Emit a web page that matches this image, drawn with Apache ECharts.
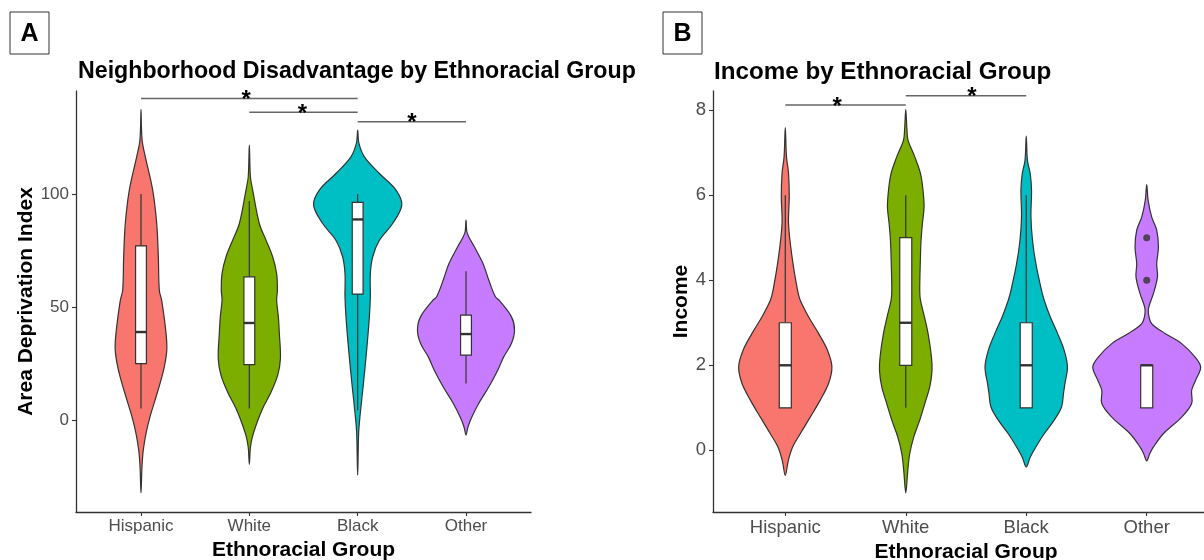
<!DOCTYPE html>
<html>
<head>
<meta charset="utf-8">
<title>Ethnoracial Group comparisons</title>
<script src="https://cdn.jsdelivr.net/npm/echarts@6/dist/echarts.min.js"></script>
<style>
  html, body { margin: 0; padding: 0; background: #ffffff; }
  #chart { width: 1204px; height: 560px; }
</style>
</head>
<body>
<div id="chart"></div>
<script>
// ---------- data ----------
const categories = ['Hispanic', 'White', 'Black', 'Other'];

// Violin profiles: [value, half-width in category units], top to bottom
const adiHispanic = [[137.5,0],[130,0.004],[123,0.012],[116.5,0.040],[101.8,0.108],[87,0.145],[72.3,0.160],[57.5,0.169],[53,0.191],[38.5,0.231],[31,0.238],[23.6,0.215],[16.3,0.176],[8.8,0.129],[1.5,0.083],[-5.9,0.046],[-13.3,0.021],[-20.6,0.009],[-32.2,0]];
const adiWhite    = [[121.7,0],[107.7,0.010],[101.8,0.031],[87,0.092],[79.6,0.154],[72.3,0.215],[64.9,0.252],[57.5,0.259],[53.1,0.252],[45.7,0.268],[38.4,0.277],[27.3,0.287],[19.9,0.262],[12.5,0.201],[5.2,0.123],[-2.2,0.062],[-7.4,0.028],[-12,0.010],[-19.5,0]];
const adiBlack    = [[128.3,0],[122.4,0.012],[116.5,0.062],[109.1,0.201],[101.8,0.354],[95.1,0.407],[87,0.323],[79.6,0.201],[72.3,0.139],[64.9,0.117],[54.6,0.117],[45.7,0.108],[31,0.083],[16.2,0.053],[1.5,0.021],[-5.9,0.009],[-24.3,0]];
const adiOther    = [[88.5,0],[82.6,0.012],[76.7,0.077],[69.3,0.157],[62,0.210],[54.6,0.271],[53.1,0.305],[45.7,0.420],[39.8,0.448],[33.9,0.419],[28,0.348],[22.1,0.293],[14.7,0.210],[7.4,0.117],[1.5,0.055],[-3,0.018],[-6.6,0]];

const incHispanic = [[7.59,0],[6.9,0.010],[6.51,0.027],[5.96,0.033],[5.33,0.027],[4.55,0.056],[3.76,0.102],[3.53,0.124],[3.14,0.193],[2.75,0.276],[2.35,0.351],[1.96,0.387],[1.57,0.359],[1.18,0.290],[0.78,0.207],[0.39,0.124],[0.08,0.061],[-0.24,0.025],[-0.59,0]];
const incWhite    = [[8.02,0],[7.53,0.010],[7.29,0.019],[6.9,0.075],[6.51,0.122],[6.12,0.143],[5.72,0.152],[5.33,0.138],[4.94,0.127],[4.55,0.122],[3.76,0.116],[3.53,0.122],[3.14,0.155],[2.75,0.185],[2.2,0.213],[1.88,0.218],[1.49,0.199],[1.1,0.158],[0.71,0.116],[0.31,0.066],[-0.08,0.033],[-0.47,0.017],[-1.0,0]];
const incBlack    = [[7.39,0],[6.82,0.010],[6.51,0.033],[6.12,0.044],[5.49,0.039],[4.94,0.052],[4.39,0.080],[3.76,0.127],[3.53,0.149],[3.14,0.199],[2.75,0.260],[2.35,0.315],[1.96,0.342],[1.57,0.321],[1.33,0.309],[1.02,0.293],[0.71,0.232],[0.39,0.149],[0.08,0.080],[-0.16,0.033],[-0.39,0]];
const incOther    = [[6.25,0],[5.88,0.012],[5.49,0.041],[5.18,0.083],[4.78,0.097],[4.39,0.083],[4.08,0.089],[3.69,0.056],[3.37,0.017],[3.22,0.014],[2.98,0.041],[2.75,0.152],[2.51,0.290],[2.2,0.400],[1.96,0.448],[1.65,0.406],[1.41,0.373],[1.1,0.373],[0.78,0.290],[0.39,0.138],[0.08,0.056],[-0.08,0.025],[-0.25,0]];

// Box statistics: [lower whisker, Q1, median, Q3, upper whisker]
const adiBoxes = [[5.2,25,39,77.1,100],[5.2,24.6,43,63.4,96.9],[4.4,55.8,88.8,96.3,100],[16.2,28.8,38.1,46.5,65.9]];
const incBoxes = [[1,1,2,3,6],[1,2,3,5,6],[1,1,2,3,6],[1,1,2,2,2]];

// Outliers: [category position, value]
const incOutliers = [[4,4],[4,5]];

// Significance brackets: [from, to, height, label position, label]
const adiBrackets = [[1,3,142.3,1.97,'*'],[2,3,136.2,2.49,'*'],[3,4,132,3.5,'*']];
const incBrackets = [[1,2,8.12,1.43,'*'],[2,3,8.34,2.55,'*']];

// Axis ticks
const adiTicks = [0, 50, 100];
const incTicks = [0, 2, 4, 6, 8];
const catTicks = [1, 2, 3, 4];

// ---------- styling ----------
const fills = ['#F8766D', '#7CAE00', '#00BFC4', '#C77CFF'];
const FONT = '"Liberation Sans", Arial, Helvetica, sans-serif';
const INK = '#333333';

function violinSeries(axis, profiles) {
  return {
    type: 'custom', xAxisIndex: axis, yAxisIndex: axis, silent: true, z: 2,
    data: profiles.map((p, i) => [i + 1]),
    renderItem: function (params, api) {
      const i = params.dataIndex;
      const prof = profiles[i];
      const cx = i + 1;
      const right = prof.map(d => api.coord([cx + d[1], d[0]]));
      const left = prof.slice(1, -1).reverse().map(d => api.coord([cx - d[1], d[0]]));
      return {
        type: 'polygon',
        shape: { points: right.concat(left), smooth: 0.35 },
        style: { fill: fills[i], stroke: INK, lineWidth: 1.2 }
      };
    }
  };
}

function boxSeries(axis, boxes) {
  const half = 0.05;
  return {
    type: 'custom', xAxisIndex: axis, yAxisIndex: axis, silent: true, z: 3,
    data: boxes.map((b, i) => [i + 1]),
    renderItem: function (params, api) {
      const i = params.dataIndex;
      const b = boxes[i];
      const cx = i + 1;
      const pLow = api.coord([cx, b[0]]);
      const pQ1 = api.coord([cx, b[1]]);
      const pQ3 = api.coord([cx, b[3]]);
      const pHigh = api.coord([cx, b[4]]);
      const l = api.coord([cx - half, b[2]]);
      const r = api.coord([cx + half, b[2]]);
      const children = [];
      if (b[4] > b[3]) children.push({ type: 'line', shape: { x1: pQ3[0], y1: pQ3[1], x2: pHigh[0], y2: pHigh[1] }, style: { stroke: INK, lineWidth: 1.2 } });
      if (b[0] < b[1]) children.push({ type: 'line', shape: { x1: pLow[0], y1: pLow[1], x2: pQ1[0], y2: pQ1[1] }, style: { stroke: INK, lineWidth: 1.2 } });
      children.push({ type: 'rect', shape: { x: l[0], y: pQ3[1], width: r[0] - l[0], height: pQ1[1] - pQ3[1] }, style: { fill: '#ffffff', stroke: INK, lineWidth: 1.2 } });
      children.push({ type: 'line', shape: { x1: l[0], y1: l[1], x2: r[0], y2: r[1] }, style: { stroke: INK, lineWidth: 2.4 } });
      return { type: 'group', children: children };
    }
  };
}

function bracketSeries(axis, brackets) {
  return {
    type: 'custom', xAxisIndex: axis, yAxisIndex: axis, silent: true, z: 4,
    data: brackets.map((b, i) => [b[0]]),
    renderItem: function (params, api) {
      const b = brackets[params.dataIndex];
      const a = api.coord([b[0], b[2]]);
      const c = api.coord([b[1], b[2]]);
      const t = api.coord([b[3], b[2]]);
      return {
        type: 'group',
        children: [
          { type: 'line', shape: { x1: a[0], y1: a[1], x2: c[0], y2: c[1] }, style: { stroke: '#666666', lineWidth: 1.4 } },
          { type: 'text', x: t[0], y: t[1] + 2, style: { text: b[4], fill: '#000', font: 'bold 24px ' + FONT, align: 'center', verticalAlign: 'middle' } }
        ]
      };
    }
  };
}

function xAxisFor(grid, size, gap) {
  return {
    type: 'value', gridIndex: grid, min: 0.4, max: 4.6,
    axisLine: { show: true, onZero: false, lineStyle: { color: INK, width: 1.3 } },
    axisTick: { show: true, length: 4, customValues: catTicks, lineStyle: { color: INK, width: 1.1 } },
    axisLabel: { customValues: catTicks, formatter: v => categories[Math.round(v) - 1], fontSize: size, color: '#4d4d4d', fontFamily: FONT, margin: 6 },
    splitLine: { show: false },
    name: 'Ethnoracial Group', nameLocation: 'middle', nameGap: gap,
    nameTextStyle: { fontSize: 21, fontWeight: 'bold', color: '#000', fontFamily: FONT }
  };
}

function yAxisFor(grid, min, max, ticks, name, gap, size) {
  return {
    type: 'value', gridIndex: grid, min: min, max: max,
    axisLine: { show: true, onZero: false, lineStyle: { color: INK, width: 1.3 } },
    axisTick: { show: true, length: 4, customValues: ticks, lineStyle: { color: INK, width: 1.1 } },
    axisLabel: { customValues: ticks, fontSize: size, color: '#4d4d4d', fontFamily: FONT, margin: 7 },
    splitLine: { show: false },
    name: name, nameLocation: 'middle', nameGap: gap,
    nameTextStyle: { fontSize: 21, fontWeight: 'bold', color: '#000', fontFamily: FONT }
  };
}

function panelTag(x, letter) {
  return [
    { type: 'rect', shape: { x: x, y: 12, width: 39, height: 42 }, style: { fill: '#fff', stroke: '#333', lineWidth: 1 } },
    { type: 'text', x: x + 19.5, y: 34, style: { text: letter, fill: '#000', font: 'bold 25px ' + FONT, align: 'center', verticalAlign: 'middle' } }
  ];
}

const chart = echarts.init(document.getElementById('chart'), null, { renderer: 'canvas' });
chart.setOption({
  animation: false,
  backgroundColor: '#ffffff',
  grid: [
    { left: 76, top: 91, width: 455, height: 421, outerBoundsMode: 'none', containLabel: false },
    { left: 713, top: 91, width: 506, height: 421, outerBoundsMode: 'none', containLabel: false }
  ],
  xAxis: [xAxisFor(0, 17, 26), xAxisFor(1, 18.5, 24)],
  yAxis: [
    yAxisFor(0, -40.6, 145.6, adiTicks, 'Area Deprivation Index', 36, 17),
    yAxisFor(1, -1.45, 8.45, incTicks, 'Income', 20, 18.5)
  ],
  graphic: [
    ...panelTag(10, 'A'),
    ...panelTag(663, 'B'),
    { type: 'text', x: 78, y: 72, style: { text: 'Neighborhood Disadvantage by Ethnoracial Group', fill: '#000', font: 'bold 23.2px ' + FONT, verticalAlign: 'middle' } },
    { type: 'text', x: 714, y: 72, style: { text: 'Income by Ethnoracial Group', fill: '#000', font: 'bold 24.2px ' + FONT, verticalAlign: 'middle' } }
  ],
  series: [
    violinSeries(0, [adiHispanic, adiWhite, adiBlack, adiOther]),
    boxSeries(0, adiBoxes),
    bracketSeries(0, adiBrackets),
    violinSeries(1, [incHispanic, incWhite, incBlack, incOther]),
    boxSeries(1, incBoxes),
    bracketSeries(1, incBrackets),
    {
      type: 'scatter', xAxisIndex: 1, yAxisIndex: 1, z: 5, silent: true,
      symbol: 'circle', symbolSize: 7,
      itemStyle: { color: INK },
      data: incOutliers
    }
  ]
});
</script>
</body>
</html>
